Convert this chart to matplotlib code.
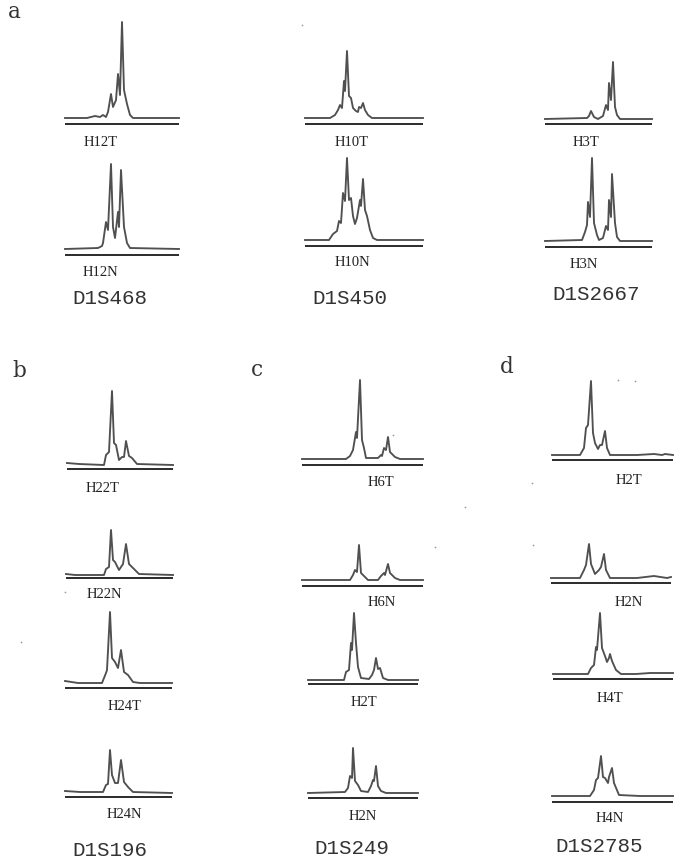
import matplotlib
matplotlib.use("Agg")
import matplotlib.pyplot as plt

W, H = 685, 859
SERIF = "Liberation Serif"
MONO = "Liberation Mono"

# Traces: position along the trace and peak height above its baseline
h12t_x = [0, 22, 30, 35, 38, 41, 43, 46, 48, 51, 53, 55, 57, 59, 62, 65, 68, 114]
h12t_h = [0, 0, 2, 1, 3, 1, 6, 24, 11, 18, 44, 23, 96, 28, 14, 3, 0, 0]
h12n_x = [0, 33, 37, 38, 41, 43, 46, 48, 50, 53, 54, 56, 59, 62, 65, 114]
h12n_h = [0, 1, 3, 6, 27, 19, 85, 22, 11, 37, 22, 79, 22, 6, 1, 0]

h10t_x = [0, 25, 30, 33, 35, 37, 39, 40, 42, 44, 46, 48, 51, 53, 54, 56, 58, 60, 63, 67, 118]
h10t_h = [0, 0, 3, 8, 13, 10, 37, 27, 67, 22, 20, 10, 7, 6, 11, 10, 15, 8, 3, 0, 0]
h10n_x = [0, 24, 28, 32, 34, 36, 38, 40, 42, 44, 46, 48, 50, 52, 55, 56, 58, 60, 62, 65, 68, 72, 118]
h10n_h = [0, 0, 6, 9, 19, 17, 47, 39, 82, 40, 42, 24, 16, 22, 40, 34, 61, 30, 24, 10, 2, 0, 0]

h3t_x = [0, 42, 44, 46, 49, 53, 58, 61, 63, 64, 66, 68, 70, 72, 75, 107]
h3t_h = [0, 1, 3, 8, 2, 0, 3, 14, 9, 36, 19, 57, 12, 4, 0, 0]
h3n_x = [0, 37, 40, 42, 43, 45, 47, 49, 52, 54, 58, 61, 63, 64, 66, 67, 70, 72, 75, 107]
h3n_h = [0, 1, 9, 16, 39, 24, 83, 18, 6, 1, 3, 15, 11, 41, 24, 67, 18, 4, 0, 0]

h22t_x = [0, 12, 37, 39, 42, 45, 47, 49, 52, 55, 57, 59, 62, 65, 70, 106]
h22t_h = [2, 1, 0, 10, 13, 74, 22, 20, 5, 8, 8, 24, 9, 7, 1, 0]
h22n_x = [0, 9, 38, 40, 43, 45, 47, 49, 53, 57, 60, 63, 66, 73, 107]
h22n_h = [1, 0, 0, 6, 8, 45, 15, 13, 5, 11, 31, 11, 8, 1, 0]
h24t_x = [0, 13, 37, 41, 42, 45, 47, 50, 53, 56, 59, 63, 68, 75, 107]
h24t_h = [2, 0, 0, 10, 13, 71, 25, 21, 15, 33, 11, 8, 1, 0, 0]
h24n_x = [0, 15, 38, 41, 43, 45, 47, 50, 53, 56, 59, 63, 68, 107]
h24n_h = [2, 1, 1, 8, 9, 43, 18, 10, 10, 33, 11, 6, 1, 0]

h6t_x = [0, 44, 48, 51, 54, 55, 58, 60, 62, 64, 76, 79, 80, 82, 84, 86, 88, 93, 98, 121]
h6t_h = [0, 0, 3, 9, 27, 21, 79, 19, 11, 1, 1, 4, 3, 11, 9, 22, 7, 2, 0, 0]
h6n_x = [0, 48, 51, 53, 55, 57, 59, 62, 66, 76, 79, 82, 83, 86, 88, 93, 98, 121]
h6n_h = [0, 0, 5, 10, 8, 35, 7, 4, 0, 0, 4, 7, 5, 16, 7, 2, 0, 0]
h2t_c_x = [0, 36, 38, 41, 43, 44, 46, 48, 50, 53, 61, 64, 66, 68, 70, 72, 75, 80, 110]
h2t_c_h = [0, 0, 8, 10, 37, 30, 67, 37, 13, 2, 1, 5, 10, 22, 11, 12, 2, 0, 0]
h2n_c_x = [0, 37, 40, 42, 44, 45, 47, 50, 53, 60, 63, 65, 66, 68, 70, 73, 78, 110]
h2n_c_h = [0, 1, 5, 17, 15, 45, 12, 8, 2, 1, 7, 13, 12, 27, 7, 2, 0, 0]

h2t_d_x = [0, 28, 32, 34, 36, 39, 41, 43, 46, 48, 50, 53, 55, 58, 85, 102, 110, 113, 121]
h2t_d_h = [0, 0, 7, 27, 30, 74, 22, 12, 6, 10, 10, 24, 7, 0, 0, 1, 0, 1, 0]
h2n_d_x = [0, 29, 33, 35, 38, 40, 44, 48, 50, 53, 55, 59, 86, 103, 116, 120]
h2n_d_h = [0, 0, 8, 13, 34, 14, 4, 8, 11, 24, 8, 0, 0, 2, 0, 1]
h4t_x = [0, 35, 38, 41, 43, 44, 47, 49, 52, 54, 56, 57, 59, 63, 68, 83, 97, 120]
h4t_h = [0, 0, 6, 9, 27, 24, 61, 26, 18, 12, 16, 20, 13, 4, 0, 0, 1, 1]
h4n_x = [0, 38, 42, 44, 46, 49, 51, 53, 56, 57, 60, 62, 67, 88, 121]
h4n_h = [0, 0, 6, 16, 18, 40, 19, 18, 13, 19, 28, 13, 1, 0, 0]

# Sample names and marker names
sample_labels = ["H12T", "H12N", "H10T", "H10N", "H3T", "H3N",
                 "H22T", "H22N", "H24T", "H24N",
                 "H6T", "H6N", "H2T", "H2N",
                 "H2T", "H2N", "H4T", "H4N"]
marker_labels = ["D1S468", "D1S450", "D1S2667", "D1S196", "D1S249", "D1S2785"]
panel_labels = ["a", "b", "c", "d"]

traces = [(h12t_x, h12t_h), (h12n_x, h12n_h), (h10t_x, h10t_h), (h10n_x, h10n_h),
          (h3t_x, h3t_h), (h3n_x, h3n_h),
          (h22t_x, h22t_h), (h22n_x, h22n_h), (h24t_x, h24t_h), (h24n_x, h24n_h),
          (h6t_x, h6t_h), (h6n_x, h6n_h), (h2t_c_x, h2t_c_h), (h2n_c_x, h2n_c_h),
          (h2t_d_x, h2t_d_h), (h2n_d_x, h2n_d_h), (h4t_x, h4t_h), (h4n_x, h4n_h)]

# Layout in pixels: left, baseline y, rule y
trace_pos = [(65, 118, 124), (65, 249, 255), (305, 118, 124), (305, 240, 246),
             (545, 119, 124), (545, 241, 247),
             (67, 465, 469), (66, 575, 578), (65, 683, 688), (65, 793, 797),
             (302, 459, 465), (302, 580, 586), (308, 680, 684), (308, 793, 798),
             (552, 455, 460), (551, 578, 583), (553, 674, 679), (552, 796, 802)]
sample_pos = [(101, 143), (100, 273), (352, 142), (352, 263), (586, 142), (584, 264),
              (103, 489), (104, 595), (125, 706), (124, 815),
              (381, 482), (382, 603), (364, 703), (363, 816),
              (629, 480), (629, 602), (610, 698), (610, 819)]
marker_pos = [(110, 298), (350, 298), (596, 295), (110, 850), (352, 849), (599, 847)]
panel_pos = [(14, 12), (19, 371), (257, 370), (507, 367)]
# Stray dust marks from the scan
speck_x = [302, 65, 21, 393, 435, 532, 465, 618, 635, 533]
speck_y = [25, 592, 642, 435, 547, 483, 507, 380, 381, 545]


def put_text(x, y, s, **kw):
    fig.text(x / W, 1 - y / H, s, ha="center", va="center", **kw)


fig = plt.figure(figsize=(W / 100, H / 100), dpi=100, facecolor="white")

for (xs, hs), (left, base, rule) in zip(traces, trace_pos):
    top = base - 100
    ax = fig.add_axes([left / W, 1 - (rule + 2) / H, xs[-1] / W, (rule + 2 - top) / H])
    ax.plot(xs, hs, color="#505050", lw=1.35, solid_joinstyle="round", clip_on=False)
    ax.axhline(base - rule, color="#111111", lw=1.25)
    ax.set_xlim(0, xs[-1])
    ax.set_ylim(base - rule - 2, 100)
    ax.axis("off")

page = fig.add_axes([0, 0, 1, 1], zorder=-1)
page.scatter(speck_x, speck_y, s=1.5, color="#999999", linewidths=0)
page.set_xlim(0, W)
page.set_ylim(H, 0)
page.axis("off")

for s, (x, y) in zip(sample_labels, sample_pos):
    put_text(x, y, s, family=SERIF, fontsize=10.5, color="#222222")
for s, (x, y) in zip(marker_labels, marker_pos):
    put_text(x, y, s, family=MONO, fontsize=15, color="#333333")
for s, (x, y) in zip(panel_labels, panel_pos):
    put_text(x, y, s, family="DejaVu Serif", fontsize=15.5, color="#333333")

fig.savefig("out.png", dpi=100)
